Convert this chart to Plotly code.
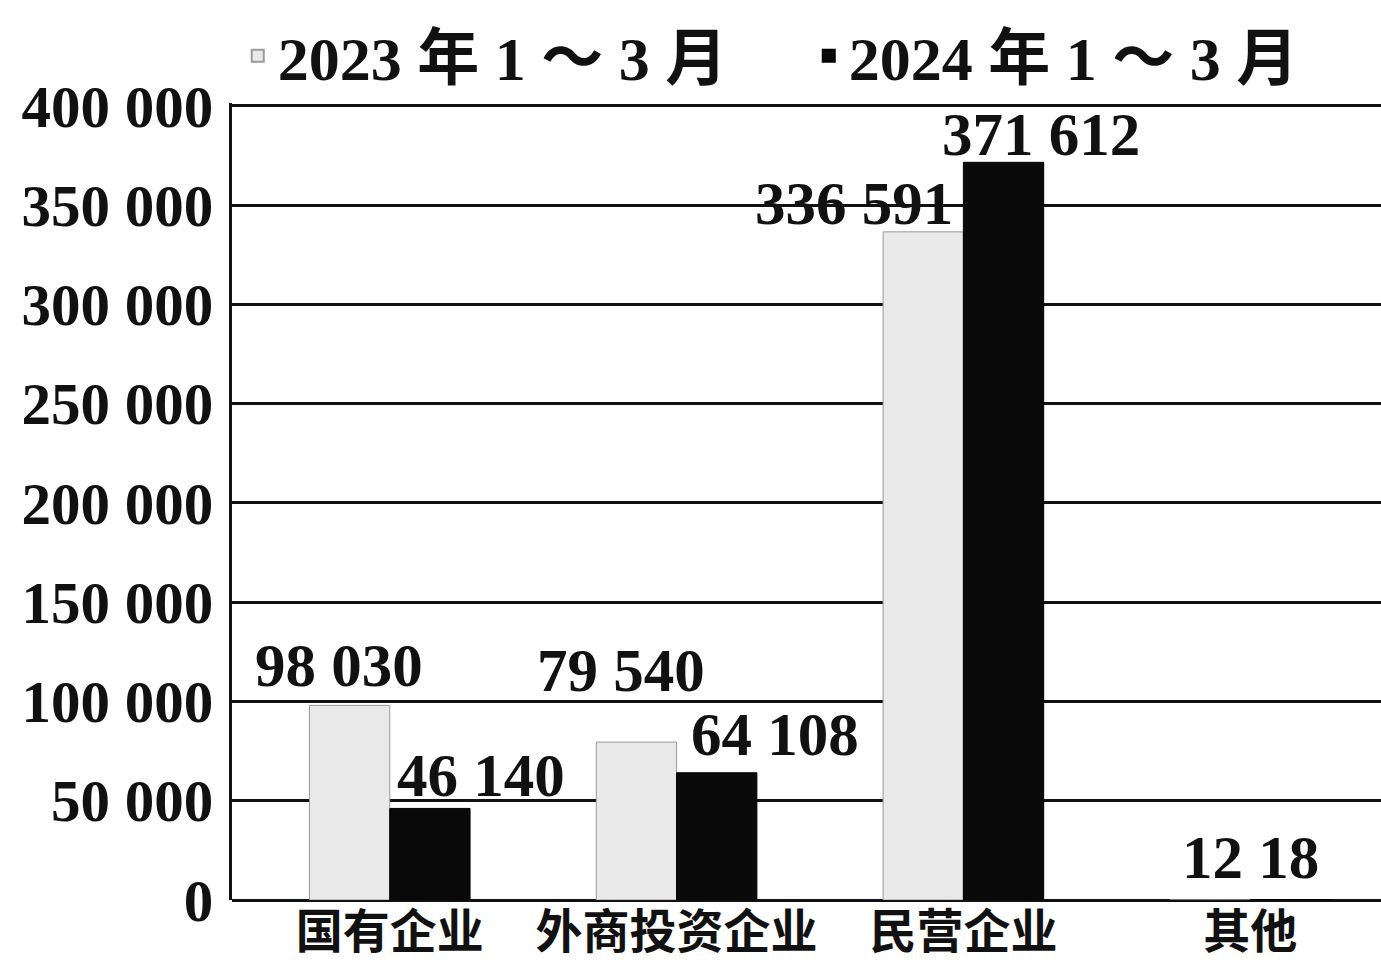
import plotly.graph_objects as go

categories = ["国有企业", "外商投资企业", "民营企业", "其他"]
series_names = ["2023 年 1 ～ 3 月", "2024 年 1 ～ 3 月"]
values_2023 = [98030, 79540, 336591, 12]
values_2024 = [46140, 64108, 371612, 18]
y_ticks = [0, 50000, 100000, 150000, 200000, 250000, 300000, 350000, 400000]

def fmt(v):
    return f"{v:,}".replace(",", " ")

FONT = "Liberation Serif, Noto Sans CJK SC, serif"
FS_TICK = 59
FS_LAB = 61

fig = go.Figure()
fig.add_trace(go.Bar(
    x=categories, y=values_2023, name=series_names[0],
    marker=dict(color="#e9e9e9", line=dict(color="#9a9a9a", width=1)),
))
fig.add_trace(go.Bar(
    x=categories, y=values_2024, name=series_names[1],
    marker=dict(color="#0a0a0a", line=dict(color="#000000", width=1)),
))

# label offsets (pixels) relative to each bar top
half = 41
offsets_2023 = [(-10 - half, 40), (-15 - half, 72), (-68 - half, 28), None]
offsets_2024 = [(50 + half, 33), (57 + half, 38), (37 + half, 28), None]

lab_font = dict(family=FONT, size=FS_LAB, color="#111", weight="bold")
annotations = []
for i, cat in enumerate(categories):
    if offsets_2023[i] is not None:
        dx, dy = offsets_2023[i]
        annotations.append(dict(x=cat, y=values_2023[i], text=fmt(values_2023[i]),
                                xshift=dx, yshift=dy, showarrow=False,
                                font=lab_font, yanchor="middle"))
    if offsets_2024[i] is not None:
        dx, dy = offsets_2024[i]
        annotations.append(dict(x=cat, y=values_2024[i], text=fmt(values_2024[i]),
                                xshift=dx, yshift=dy, showarrow=False,
                                font=lab_font, yanchor="middle"))
annotations.append(dict(x=categories[3], y=values_2024[3],
                        text=f"{fmt(values_2023[3])} {fmt(values_2024[3])}",
                        yshift=42, showarrow=False,
                        font=lab_font, yanchor="middle"))

fig.update_layout(
    width=1381, height=962,
    margin=dict(l=232, r=0, t=103, b=62, autoexpand=False),
    paper_bgcolor="white", plot_bgcolor="white",
    barmode="group", bargap=0.44, bargroupgap=0,
    font=dict(family=FONT, size=FS_TICK, color="#111", weight="bold"),
    showlegend=True,
    legend=dict(orientation="h", x=0.005, xanchor="left", y=1.059, yanchor="middle",
                font=dict(family=FONT, size=62, color="#111", weight="bold"),
                entrywidth=526, entrywidthmode="pixels",
                itemsizing="constant", tracegroupgap=0, bgcolor="rgba(0,0,0,0)"),
    xaxis=dict(range=[-0.55, 3.456], showgrid=False, showline=False, ticks="",
               automargin=False, ticklabelstandoff=0,
               tickfont=dict(family=FONT, size=47, color="#111", weight="bold")),
    yaxis=dict(range=[0, 401500], tickvals=y_ticks,
               ticktext=[fmt(v) for v in y_ticks],
               showgrid=True, gridcolor="#111", gridwidth=3,
               zeroline=True, zerolinecolor="#111", zerolinewidth=3,
               showline=True, linecolor="#111", linewidth=3,
               ticks="", ticklabelstandoff=4, automargin=False,
               tickfont=dict(family=FONT, size=FS_TICK, color="#111", weight="bold")),
    annotations=annotations,
)

fig.write_html("out.html", config={"displayModeBar": False},
               post_script="document.body.style.margin='0';document.body.style.overflow='hidden';")
